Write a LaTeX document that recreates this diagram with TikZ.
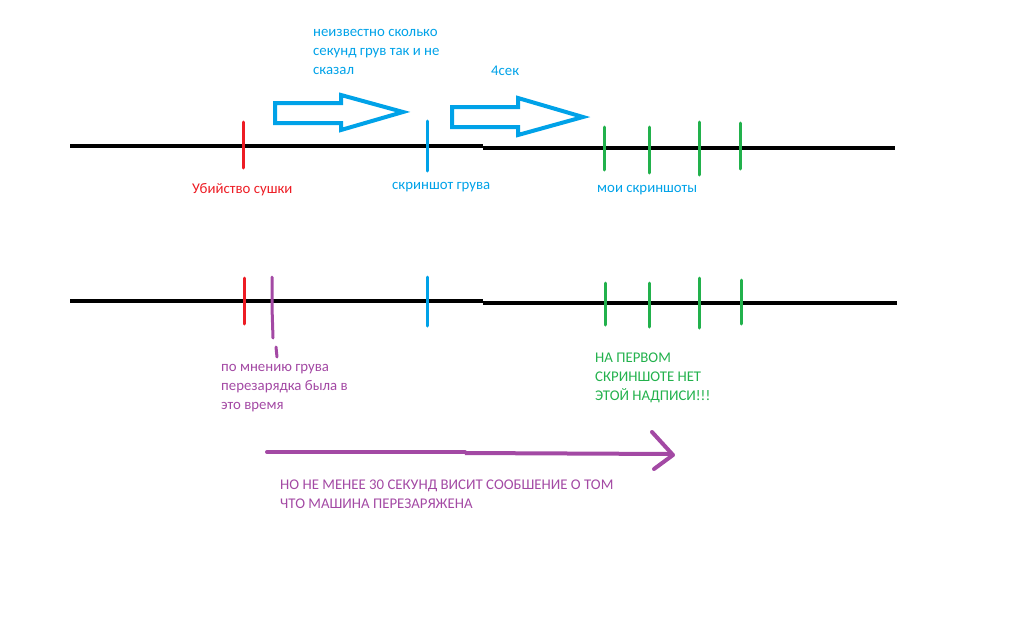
\documentclass[tikz,border=0pt]{standalone}
\usepackage{fontspec}
\setmainfont{Carlito}
\definecolor{pblue}{RGB}{0,162,232}
\definecolor{pred}{RGB}{237,28,36}
\definecolor{pgreen}{RGB}{34,177,76}
\definecolor{ppurple}{RGB}{163,73,164}
\begin{document}
\begin{tikzpicture}[x=1pt,y=-1pt,
  axis/.style={line width=4pt,black},
  tick/.style={line width=3pt,line cap=round},
  fatarrow/.style={line width=4pt,pblue,line join=miter},
  lbl/.style={anchor=west,inner sep=0pt,align=left,font=\fontsize{14.8}{19}\selectfont},
]
\useasboundingbox (0,0) rectangle (1028,616);
% top timeline
\coordinate (t1a) at (70,146); \coordinate (t1b) at (483,146);
\coordinate (t2a) at (483,148); \coordinate (t2b) at (895,148);
\draw[axis] (t1a) -- (t1b);
\draw[axis] (t2a) -- (t2b);
\draw[tick,pred] (243,122) coordinate (k1) -- (243,168) coordinate (k1e);
\draw[tick,pblue] (427,121) coordinate (k2) -- (427,171) coordinate (k2e);
\draw[tick,pgreen] (604,127) -- (604,170);
\draw[tick,pgreen] (649,127) -- (649,173);
\draw[tick,pgreen] (699,122) -- (699,175);
\draw[tick,pgreen] (740,123) -- (740,169);
% hollow arrows
\draw[fatarrow] (275,103) -- (341,103) -- (341,95) -- (403,112) -- (341,130) -- (341,123) -- (275,123) -- cycle;
\draw[fatarrow] (452,107) -- (518,107) -- (518,98) -- (583,117) -- (518,135) -- (518,127) -- (452,127) -- cycle;
% top labels
\node[lbl,text=pblue] (n1) at (313,52) {неизвестно сколько\\секунд грув так и не\\сказал};
\node[lbl,text=pblue] (n2) at (491,71) {4сек};
\node[lbl,text=pred] (n3) at (192,190) {Убийство сушки};
\node[lbl,text=pblue] (n4) at (392,187) {скриншот грува};
\node[lbl,text=pblue] (n5) at (597,190) {мои скриншоты};
% bottom timeline
\coordinate (b1a) at (70,301); \coordinate (b1b) at (483,301);
\coordinate (b2a) at (483,303); \coordinate (b2b) at (897,303);
\draw[axis] (b1a) -- (b1b);
\draw[axis] (b2a) -- (b2b);
\draw[tick,pred] (244,278) -- (244,324);
\draw[tick,ppurple] (272,277) -- (272,307) -- (273,338);
\draw[tick,ppurple] (276,347) -- (277,357);
\draw[tick,pblue] (427,277) -- (427,326);
\draw[tick,pgreen] (605,283) -- (605,325);
\draw[tick,pgreen] (649,283) -- (649,327);
\draw[tick,pgreen] (699,278) -- (699,328);
\draw[tick,pgreen] (741,280) -- (741,324);
\node[lbl,text=ppurple] (n6) at (221,388) {по мнению грува\\перезарядка была в\\это время};
\node[lbl,text=pgreen] (n7) at (595,378) {НА ПЕРВОМ\\СКРИНШОТЕ НЕТ\\ЭТОЙ НАДПИСИ!!!};
% purple arrow
\coordinate (pa) at (267,452); \coordinate (pm) at (465,452);
\coordinate (pm2) at (465,453); \coordinate (pb) at (672,454);
\draw[line width=4pt,ppurple,line cap=round] (pa) -- (pm);
\draw[line width=4pt,ppurple] (pm2) -- (pb);
\draw[line width=4pt,ppurple,line cap=round,line join=round] (652,432) -- (673,455) -- (654,469);
\node[lbl,text=ppurple] (n8) at (280,494) {НО НЕ МЕНЕЕ 30 СЕКУНД ВИСИТ СООБШЕНИЕ О ТОМ\\ЧТО МАШИНА ПЕРЕЗАРЯЖЕНА};
\end{tikzpicture}
\end{document}
